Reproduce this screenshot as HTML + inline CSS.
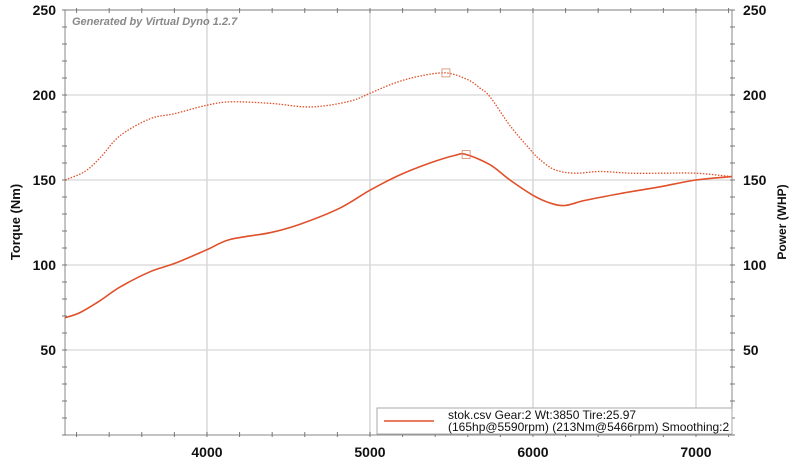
<!DOCTYPE html>
<html><head><meta charset="utf-8"><style>
html,body{margin:0;padding:0;background:#fff;}
svg{display:block;font-family:"Liberation Sans",Arial,sans-serif;}
</style></head><body>
<svg id="chart" width="799" height="460" viewBox="0 0 799 460" xmlns="http://www.w3.org/2000/svg"></svg>
<script>
const rpmTorque = [3130,3250,3344,3466,3650,3800,4000,4150,4400,4600,4750,4900,5000,5150,5300,5466,5600,5675,5736,5859,5982,6043,6135,6258,6411,6600,6800,7000,7220];
const torqueNm  = [150,155,163,176,186,189,194,196,195,193,194,197,201,207,211,213,209,204,199,182,168,162,156,154,155,154,154,154,152];
const rpmPower  = [3130,3221,3344,3466,3650,3804,4000,4141,4387,4571,4816,5000,5184,5368,5521,5590,5736,5859,6000,6104,6196,6319,6534,6779,7000,7220];
const powerHp   = [69,72,79,87,96,101,109,115,119,124,133.5,144,153,160,164.5,165,159,150,141,136.5,135,138,142,146,150,152];
const peakTorque = [5466,213];
const peakPower  = [5590,165];
const xTicks = [4000,5000,6000,7000];
const yTicks = [50,100,150,200,250];

const L=65,R=732,T=10,B=435, X0=3129, X1=7221, Y0=0, Y1=250;
const sx=v=>L+(v-X0)/(X1-X0)*(R-L);
const sy=v=>B-(v-Y0)/(Y1-Y0)*(B-T);
const svg=document.getElementById('chart');
const NS='http://www.w3.org/2000/svg';
function mk(tag,attrs,parent){const e=document.createElementNS(NS,tag);for(const k in attrs)e.setAttribute(k,attrs[k]);(parent||svg).appendChild(e);return e;}

for(const v of xTicks){const g=mk('line',{x1:sx(v),x2:sx(v),y1:T,y2:B,stroke:'#d8d8d8','stroke-width':1.5});

}
for(const v of yTicks){const g=mk('line',{x1:L,x2:R,y1:sy(v),y2:sy(v),stroke:'#d8d8d8','stroke-width':1.2});

}
const fr=mk('rect',{x:L,y:T,width:R-L,height:B-T,fill:'none',stroke:'#888','stroke-width':1});


for(let v=0;v<=250;v+=10){mk('line',{x1:L-3,x2:L+2,y1:sy(v),y2:sy(v),stroke:'#777'});mk('line',{x1:R-2,x2:R+3,y1:sy(v),y2:sy(v),stroke:'#777'});}
for(let v=3200;v<=7200;v+=200){mk('line',{x1:sx(v),x2:sx(v),y1:B-3,y2:B+2,stroke:'#777'});mk('line',{x1:sx(v),x2:sx(v),y1:T-2,y2:T+3,stroke:'#777'});}
for(const v of xTicks){const t=mk('text',{x:sx(v),y:457,'text-anchor':'middle','font-size':14,'font-weight':'bold',fill:'#111'});t.textContent=v;

}
for(const v of yTicks){const t=mk('text',{x:56,y:sy(v)+5,'text-anchor':'end','font-size':14,'font-weight':'bold',fill:'#111'});t.textContent=v;


const t2=mk('text',{x:743,y:sy(v)+5,'text-anchor':'start','font-size':14,'font-weight':'bold',fill:'#111'});t2.textContent=v;

}
const yl=mk('text',{x:20,y:222,'text-anchor':'middle','font-size':13,'font-weight':'bold',fill:'#111',transform:'rotate(-90 20 222)'});yl.textContent='Torque (Nm)';


const yr=mk('text',{x:786,y:222,'text-anchor':'middle','font-size':12,'font-weight':'bold',fill:'#111',transform:'rotate(-90 786 222)'});yr.textContent='Power (WHP)';


const gen=mk('text',{x:72,y:25,'font-size':11,'font-weight':'bold','font-style':'italic',fill:'#888'});gen.textContent='Generated by Virtual Dyno 1.2.7';



function smoothPath(xs,ys){const p=xs.map((x,i)=>[sx(x),sy(ys[i])]);let d='M'+p[0][0]+','+p[0][1];
for(let i=0;i<p.length-1;i++){const p0=p[i-1]||p[i],p1=p[i],p2=p[i+1],p3=p[i+2]||p2;
const c1=[p1[0]+(p2[0]-p0[0])/6,p1[1]+(p2[1]-p0[1])/6],c2=[p2[0]-(p3[0]-p1[0])/6,p2[1]-(p3[1]-p1[1])/6];
d+=` C${c1[0]},${c1[1]} ${c2[0]},${c2[1]} ${p2[0]},${p2[1]}`;}return d;}
const tq=mk('path',{d:smoothPath(rpmTorque,torqueNm),fill:'none',stroke:'#e0502a','stroke-width':1.3,'stroke-dasharray':'1.5,1.5'});


const pw=mk('path',{d:smoothPath(rpmPower,powerHp),fill:'none',stroke:'#e0502a','stroke-width':1.6});


const m1=mk('rect',{x:sx(peakTorque[0])-4,y:sy(peakTorque[1])-4,width:8,height:8,fill:'none',stroke:'#d8876a','stroke-width':0.8});


const m2=mk('rect',{x:sx(peakPower[0])-4,y:sy(peakPower[1])-4,width:8,height:8,fill:'none',stroke:'#d8876a','stroke-width':0.8});



const lg=mk('g',{});


mk('rect',{x:377,y:408,width:355,height:26,fill:'#fff',stroke:'#aaa','stroke-width':1},lg);
mk('line',{x1:384,x2:434,y1:421,y2:421,stroke:'#e0502a','stroke-width':1.6},lg);
const l1=mk('text',{x:448,y:419,'font-size':12,fill:'#111'},lg);l1.textContent='stok.csv Gear:2 Wt:3850 Tire:25.97';
const l2=mk('text',{x:448,y:431,'font-size':12,fill:'#111'},lg);l2.textContent='(165hp@5590rpm) (213Nm@5466rpm) Smoothing:2';
</script>
</body></html>
